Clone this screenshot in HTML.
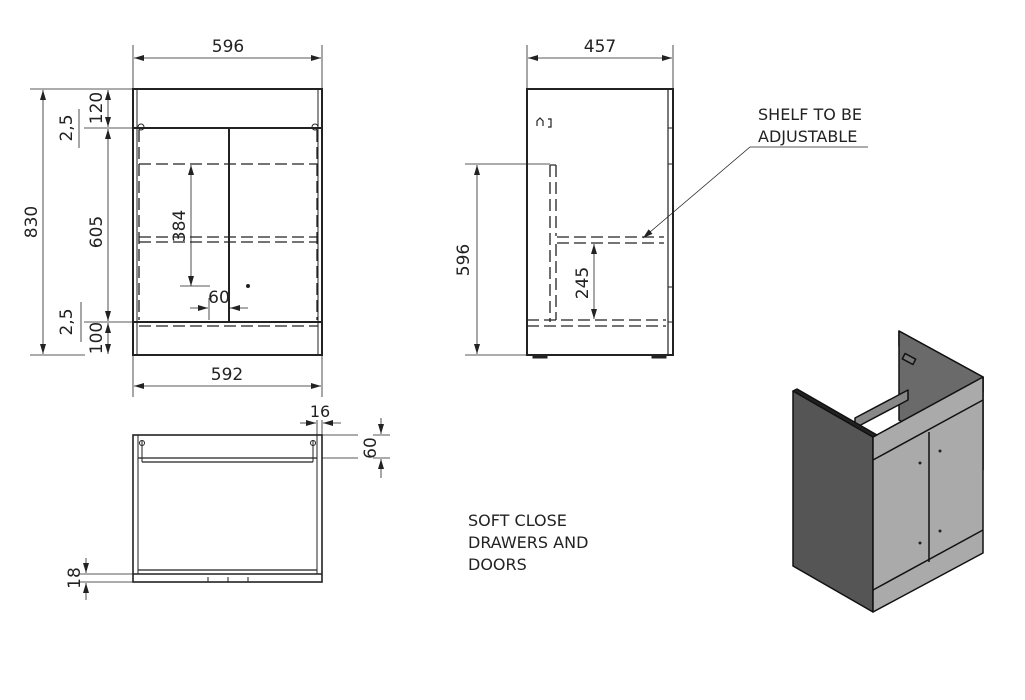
<!DOCTYPE html>
<html><head><style>html,body{margin:0;padding:0;background:#fff;width:1025px;height:700px;overflow:hidden}</style></head>
<body>
<svg width="1025" height="700" viewBox="0 0 1025 700" xmlns="http://www.w3.org/2000/svg" font-family="'DejaVu Sans','Liberation Sans',sans-serif" font-size="16" fill="#222">
<defs>
<marker id="a" viewBox="0 0 10 6" refX="10" refY="3" markerWidth="10" markerHeight="6" orient="auto-start-reverse" markerUnits="userSpaceOnUse"><path d="M0,0 L10,3 L0,6z" fill="#222"/></marker>
</defs>
<g stroke="#222" fill="none">
<!-- FRONT VIEW -->
<rect x="133" y="89" width="189" height="266" stroke-width="2"/>
<line x1="137" y1="89" x2="137" y2="355" stroke-width="1"/>
<line x1="318" y1="89" x2="318" y2="355" stroke-width="1"/>
<line x1="133" y1="128" x2="322" y2="128" stroke-width="2"/>
<line x1="133" y1="322" x2="322" y2="322" stroke-width="2"/>
<line x1="229" y1="128" x2="229" y2="322" stroke-width="2"/>
<g stroke-dasharray="12,5" stroke-width="1.3">
<line x1="139" y1="164" x2="318" y2="164"/>
<line x1="139" y1="237" x2="318" y2="237"/>
<line x1="139" y1="242" x2="318" y2="242"/>
<line x1="139" y1="326" x2="318" y2="326"/>
<line x1="139" y1="130" x2="139" y2="320"/>
<line x1="317" y1="130" x2="317" y2="320"/>
</g>
<circle cx="141" cy="127" r="3"/><circle cx="315" cy="127" r="3"/>
<!-- dims front -->
<g stroke-width="0.8">
<line x1="133" y1="45" x2="133" y2="89"/><line x1="322" y1="45" x2="322" y2="89"/>
<line x1="134" y1="58" x2="321" y2="58" marker-start="url(#a)" marker-end="url(#a)"/>
<line x1="133" y1="355" x2="133" y2="397"/><line x1="322" y1="355" x2="322" y2="397"/>
<line x1="134" y1="386" x2="321" y2="386" marker-start="url(#a)" marker-end="url(#a)"/>
<line x1="30" y1="89" x2="133" y2="89"/><line x1="30" y1="355" x2="85" y2="355"/>
<line x1="43" y1="90" x2="43" y2="354" marker-start="url(#a)" marker-end="url(#a)"/>
<line x1="84" y1="128" x2="133" y2="128"/><line x1="84" y1="322" x2="133" y2="322"/>
<line x1="108" y1="90" x2="108" y2="127" marker-start="url(#a)" marker-end="url(#a)"/>
<line x1="108" y1="129" x2="108" y2="321" marker-start="url(#a)" marker-end="url(#a)"/>
<line x1="108" y1="323" x2="108" y2="354" marker-start="url(#a)" marker-end="url(#a)"/>
<line x1="79" y1="109" x2="79" y2="148"/><line x1="81" y1="302" x2="81" y2="342"/>
<line x1="191" y1="165" x2="191" y2="286" marker-start="url(#a)" marker-end="url(#a)"/>
<line x1="180" y1="286" x2="210" y2="286"/>
<line x1="209" y1="298" x2="209" y2="320"/>
<line x1="190" y1="308" x2="208" y2="308" marker-end="url(#a)"/>
<line x1="248" y1="308" x2="230" y2="308" marker-end="url(#a)"/>
</g>
<circle cx="248" cy="286" r="1.5" fill="#222"/>
<!-- SIDE VIEW -->
<rect x="527" y="89" width="146" height="266" stroke-width="2"/>
<line x1="668" y1="89" x2="668" y2="355" stroke-width="1.2"/>
<line x1="668" y1="128" x2="673" y2="128"/><line x1="668" y1="164" x2="673" y2="164"/>
<line x1="668" y1="287" x2="673" y2="287"/><line x1="668" y1="322" x2="673" y2="322"/>
<rect x="533" y="355" width="14" height="3" fill="#222"/><rect x="652" y="355" width="14" height="3" fill="#222"/>
<path d="M537,126 v-5 l3,-3 l3,3 v5 M548,119 h3 v8 h-3" stroke-width="1.2"/>
<g stroke-dasharray="12,5" stroke-width="1.3">
<line x1="550" y1="165" x2="550" y2="322"/>
<line x1="556" y1="165" x2="556" y2="236"/>
<line x1="556" y1="244" x2="556" y2="320"/>
<line x1="557" y1="237" x2="664" y2="237"/>
<line x1="557" y1="243" x2="664" y2="243"/>
<line x1="527" y1="320" x2="666" y2="320"/>
<line x1="527" y1="326" x2="666" y2="326"/>
</g>
<line x1="550" y1="165" x2="556" y2="165" stroke-width="1.2"/>
<g stroke-width="0.8">
<line x1="527" y1="45" x2="527" y2="89"/><line x1="673" y1="45" x2="673" y2="89"/>
<line x1="528" y1="58" x2="672" y2="58" marker-start="url(#a)" marker-end="url(#a)"/>
<line x1="465" y1="164" x2="550" y2="164"/><line x1="465" y1="355" x2="527" y2="355"/>
<line x1="477" y1="165" x2="477" y2="354" marker-start="url(#a)" marker-end="url(#a)"/>
<line x1="594" y1="244" x2="594" y2="319" marker-start="url(#a)" marker-end="url(#a)"/>
<polyline points="868,147 750,147 643,238" marker-end="url(#a)"/>
</g>
<!-- PLAN VIEW -->
<rect x="133" y="435" width="189" height="147" stroke-width="1.6"/>
<line x1="133" y1="574" x2="322" y2="574" stroke-width="1.4"/>
<line x1="138" y1="435" x2="138" y2="574"/><line x1="317" y1="435" x2="317" y2="574"/>
<line x1="142" y1="440" x2="142" y2="462"/><line x1="313" y1="440" x2="313" y2="462"/>
<line x1="138" y1="458" x2="317" y2="458" stroke-width="1.3"/>
<line x1="142" y1="462" x2="313" y2="462" stroke-width="1.3"/>
<line x1="138" y1="570" x2="317" y2="570" stroke-width="1.3"/>
<circle cx="142" cy="443" r="2.5"/><circle cx="313" cy="443" r="2.5"/>
<line x1="208" y1="577" x2="208" y2="582"/><line x1="228" y1="577" x2="228" y2="582"/><line x1="248" y1="577" x2="248" y2="582"/>
<g stroke-width="0.8">
<line x1="317" y1="420" x2="317" y2="435"/><line x1="322" y1="420" x2="322" y2="435"/>
<line x1="300" y1="423" x2="316" y2="423" marker-end="url(#a)"/>
<line x1="341" y1="423" x2="323" y2="423" marker-end="url(#a)"/>
<line x1="322" y1="435" x2="358" y2="435"/><line x1="322" y1="458" x2="358" y2="458"/>
<line x1="381" y1="418" x2="381" y2="434" marker-end="url(#a)"/>
<line x1="381" y1="478" x2="381" y2="459" marker-end="url(#a)"/>
<line x1="373" y1="435" x2="390" y2="435"/><line x1="373" y1="458" x2="390" y2="458"/>
<line x1="80" y1="574" x2="133" y2="574"/><line x1="80" y1="582" x2="133" y2="582"/>
<line x1="86" y1="558" x2="86" y2="573" marker-end="url(#a)"/>
<line x1="86" y1="600" x2="86" y2="583" marker-end="url(#a)"/>
</g>
</g>
<!-- ISOMETRIC -->
<g stroke="#111" stroke-width="1.5" stroke-linejoin="round">
<polygon points="899,331 983,377 983,392 899,346" fill="#555"/>
<polygon points="899,331 899,420 983,470 983,377" fill="#6a6a6a"/>
<polygon points="855,418 908,390 908,400 855,428" fill="#888"/>
<polygon points="793,391 873,437 873,612 793,566" fill="#555"/>
<polygon points="873,437 983,377 983,553 873,612" fill="#aaa"/>
<line x1="873" y1="460" x2="983" y2="400"/>
<line x1="873" y1="590" x2="983" y2="530"/>
<line x1="929" y1="432" x2="929" y2="562"/>
<polygon points="793,391 797,389 877,435 873,437" fill="#222"/>
<rect x="903" y="356" width="12" height="6" fill="#777" transform="rotate(28 909 359)"/>
</g>
<g fill="#222"><circle cx="920" cy="463" r="1.5"/><circle cx="940" cy="451" r="1.5"/><circle cx="920" cy="543" r="1.5"/><circle cx="940" cy="531" r="1.5"/></g>
<!-- TEXT -->
<g font-size="17" text-anchor="middle">
<text x="228" y="52">596</text>
<text x="227" y="380">592</text>
<text x="600" y="52">457</text>
<text x="320" y="417" font-size="16">16</text>
<text x="219" y="303">60</text>
<text transform="translate(37,222) rotate(-90)">830</text>
<text transform="translate(102,232) rotate(-90)">605</text>
<text transform="translate(102,108) rotate(-90)">120</text>
<text transform="translate(102,338) rotate(-90)">100</text>
<text transform="translate(72,128) rotate(-90)">2,5</text>
<text transform="translate(72,322) rotate(-90)">2,5</text>
<text transform="translate(185,226) rotate(-90)">384</text>
<text transform="translate(469,260) rotate(-90)">596</text>
<text transform="translate(588,283) rotate(-90)">245</text>
<text transform="translate(376,448) rotate(-90)">60</text>
<text transform="translate(80,578) rotate(-90)">18</text>
</g>
<g font-size="16">
<text x="758" y="120">SHELF TO BE</text>
<text x="758" y="142">ADJUSTABLE</text>
<text x="468" y="526">SOFT CLOSE</text>
<text x="468" y="548">DRAWERS AND</text>
<text x="468" y="570">DOORS</text>
</g>
</svg>
</body></html>
